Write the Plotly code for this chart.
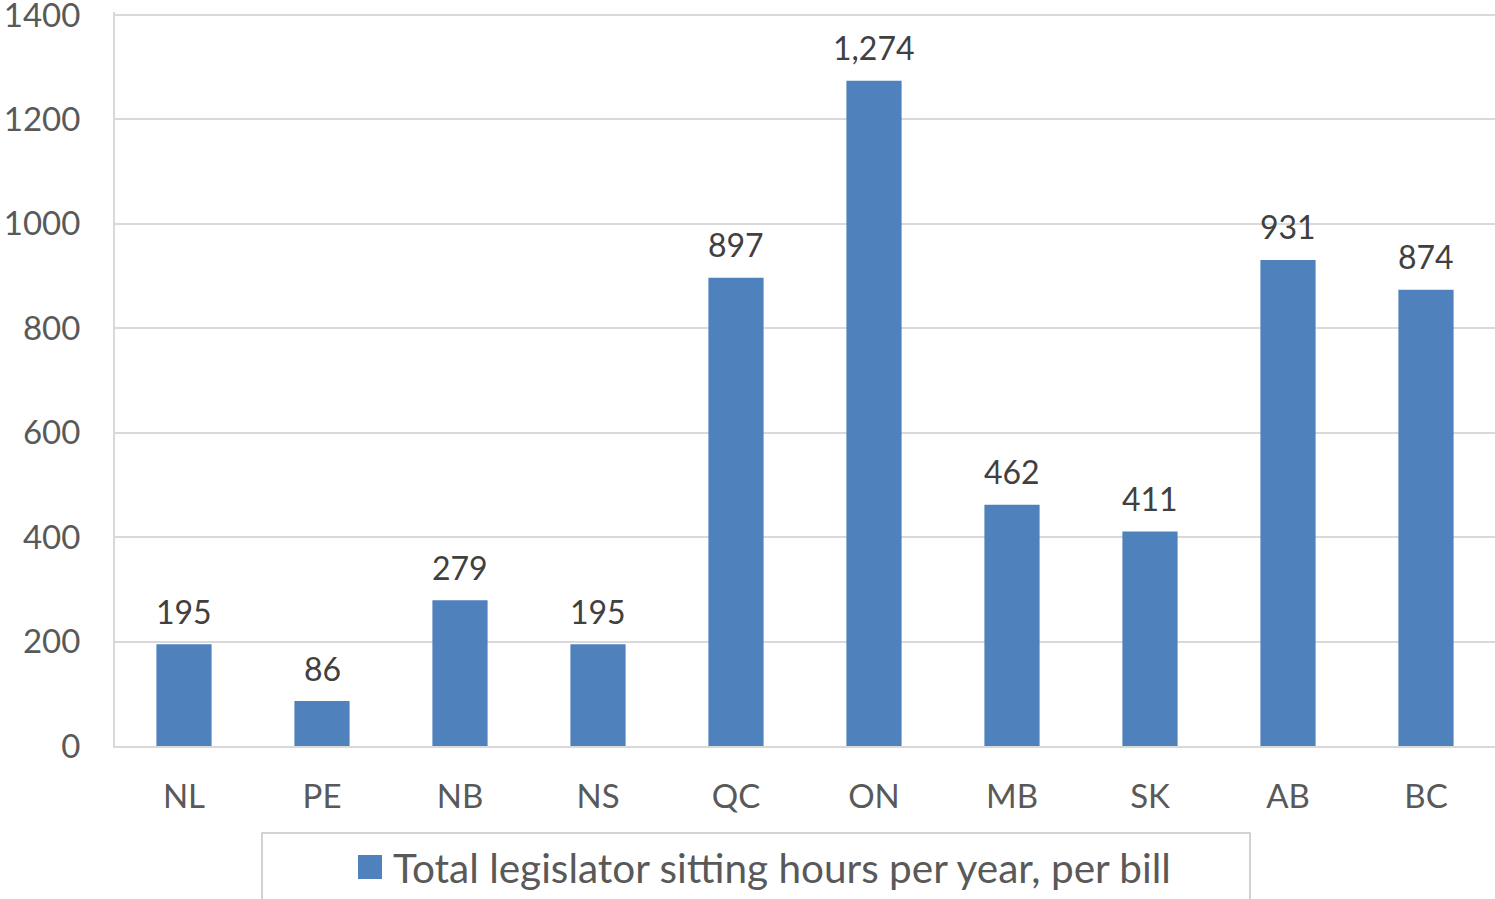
import plotly.graph_objects as go

provinces = ["NL", "PE", "NB", "NS", "QC", "ON", "MB", "SK", "AB", "BC"]
hours_per_bill = [195, 86, 279, 195, 897, 1274, 462, 411, 931, 874]
series_name = "Total legislator sitting hours per year, per bill"
y_ticks = [0, 200, 400, 600, 800, 1000, 1200, 1400]

BAR = "#4f81bd"
GRID = "#d9d9d9"
TXT = "#595959"
LBL = "#404040"
FONT = "Lato"

W, H = 1495, 899
L, R, T, B = 115, 0, 12, 153
pw, ph = W - L - R, H - T - B
Y_MAX = 1400 * ph / (H - B - 15)  # so that 1400 sits at y=15px, just inside the plot


def px_x(px):
    return (px - L) / pw


def px_y(py):
    return (H - B - py) / ph


fig = go.Figure()
fig.add_trace(go.Bar(
    x=provinces, y=hours_per_bill, name=series_name,
    marker=dict(color=BAR, line=dict(width=0)),
    showlegend=False,
))

for p, v in zip(provinces, hours_per_bill):
    fig.add_annotation(x=p, y=v, xref="x", yref="y", text=f"{v:,}",
                       showarrow=False, yanchor="middle", yshift=33,
                       font=dict(family=FONT, size=32, color=LBL))

# legend box and key
fig.add_shape(type="rect", xref="paper", yref="paper",
              x0=px_x(262), x1=px_x(1250), y0=px_y(833), y1=px_y(910),
              line=dict(color="#c4c4c4", width=1.5), fillcolor="rgba(0,0,0,0)")
fig.add_shape(type="rect", xref="paper", yref="paper",
              x0=px_x(358), x1=px_x(382), y0=px_y(855), y1=px_y(879),
              line=dict(width=0), fillcolor=BAR)
fig.add_annotation(x=px_x(391), y=px_y(867), xref="paper", yref="paper",
                   text=series_name, showarrow=False, xanchor="left", yanchor="middle",
                   font=dict(family=FONT, size=40.5, color=TXT))

fig.update_layout(
    width=W, height=H,
    margin=dict(l=L, r=R, t=T, b=B, pad=0, autoexpand=False),
    paper_bgcolor="white", plot_bgcolor="white",
    bargap=0.6,
    font=dict(family=FONT, color=TXT),
)
fig.update_xaxes(
    showline=True, linecolor=GRID, linewidth=2, automargin=False,
    showgrid=False, ticks="", ticklabelstandoff=20,
    tickfont=dict(family=FONT, size=33, color=TXT),
)
fig.update_yaxes(
    range=[0, Y_MAX], tickvals=y_ticks, automargin=False,
    showgrid=True, gridcolor=GRID, gridwidth=1.5,
    showline=True, linecolor=GRID, linewidth=2, mirror=False,
    zeroline=False, ticks="", ticklabelstandoff=26,
    ticklabeloverflow="allow",
    tickfont=dict(family=FONT, size=33, color=TXT),
)

fig.write_html("out.html", config={"displayModeBar": False},
               post_script="document.body.style.margin='0';document.body.style.padding='0';")
